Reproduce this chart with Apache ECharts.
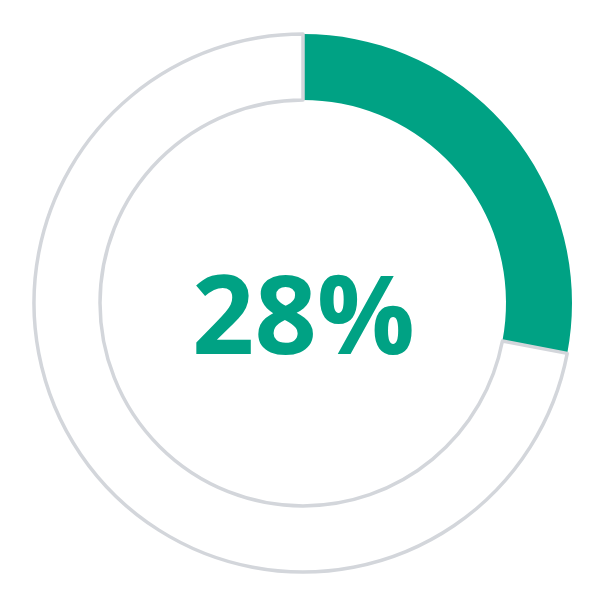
<!DOCTYPE html>
<html><head><meta charset="utf-8">
<script src="https://cdn.jsdelivr.net/npm/echarts@6/dist/echarts.min.js"></script>
<style>html,body{margin:0;padding:0;background:#fff}#c{width:607px;height:607px}</style>
</head><body><div id="c"></div>
<script>
const categories = ['Done', 'Remaining'];
const values = [28, 72];
const centerLabel = '28%';

const chart = echarts.init(document.getElementById('c'), null, {renderer: 'canvas'});
chart.setOption({
  animation: false,
  series: [{
    type: 'pie',
    center: [303, 303],
    radius: [203, 269],
    startAngle: 90,
    clockwise: true,
    silent: true,
    label: {show: false},
    labelLine: {show: false},
    data: [
      {name: categories[0], value: values[0], itemStyle: {color: '#00A284', borderWidth: 0}},
      {name: categories[1], value: values[1], itemStyle: {color: '#ffffff', borderColor: '#D3D6DB', borderWidth: 3.5}}
    ]
  }],
  graphic: [{
    type: 'text',
    left: 'center',
    top: 268,
    style: {
      text: centerLabel,
      font: 'bold 109px "Open Sans"',
      fill: '#00A284',
      textAlign: 'center'
    }
  }]
});
</script></body></html>
